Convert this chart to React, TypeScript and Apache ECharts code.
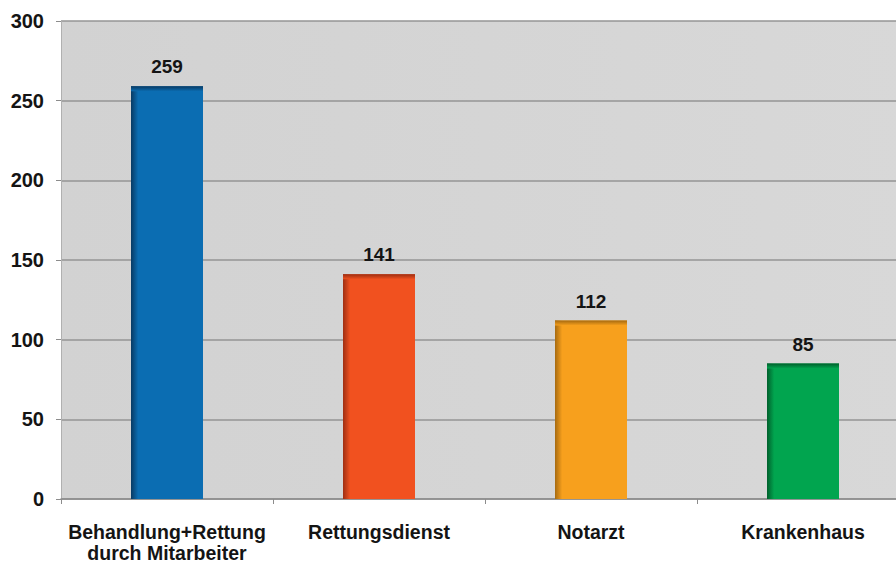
import React, { useEffect, useRef } from "react";
import * as echarts from "echarts";

const categories = ["Behandlung+Rettung\ndurch Mitarbeiter", "Rettungsdienst", "Notarzt", "Krankenhaus"];
const values = [259, 141, 112, 85];
const mainColors = ["#0b6db2", "#f1511f", "#f7a01d", "#01a54f"];
const darkColors = ["#083a63", "#9e2e12", "#a66a10", "#00602c"];
const yTicks = { min: 0, max: 300, interval: 50 };

const FONT = "'Liberation Sans', Arial, sans-serif";

export default function App() {
  const ref = useRef<HTMLDivElement>(null);
  useEffect(() => {
    if (!ref.current) return;
    const chart = echarts.init(ref.current, undefined, { renderer: "svg" });
    const barData = values.map((v, i) => ({
      value: v,
      itemStyle: {
        color: new echarts.graphic.LinearGradient(0, 0, 1, 0, [
          { offset: 0, color: darkColors[i] },
          { offset: 0.1, color: mainColors[i] },
          { offset: 1, color: mainColors[i] },
        ]),
      },
    }));
    chart.setOption({
      animation: false,
      backgroundColor: "#ffffff",
      grid: {
        left: 61,
        top: 21,
        width: 848,
        height: 478,
        outerBoundsMode: "none",
        containLabel: false,
        show: true,
        borderWidth: 0,
        backgroundColor: new echarts.graphic.LinearGradient(0, 0, 1, 0, [
          { offset: 0, color: "#d2d2d2" },
          { offset: 1, color: "#d8d8d8" },
        ]),
      },
      xAxis: {
        type: "category",
        data: categories,
        axisLine: { show: true, lineStyle: { color: "#8c8c8c", width: 1.5 } },
        axisTick: { show: true, length: 5, lineStyle: { color: "#8c8c8c" } },
        axisLabel: {
          color: "#141414",
          fontFamily: FONT,
          fontWeight: "bold",
          fontSize: 19.5,
          lineHeight: 21,
          margin: 22,
          interval: 0,
        },
      },
      yAxis: {
        type: "value",
        min: yTicks.min,
        max: yTicks.max,
        interval: yTicks.interval,
        axisLine: { show: true, lineStyle: { color: "#b0b0b0", width: 1 } },
        axisTick: { show: true, length: 5, lineStyle: { color: "#8c8c8c" } },
        axisLabel: {
          color: "#141414",
          fontFamily: FONT,
          fontWeight: "bold",
          fontSize: 20,
          margin: 17,
        },
        splitLine: { show: true, lineStyle: { color: "#959595", width: 1.5 } },
      },
      series: [
        {
          type: "bar",
          data: barData,
          barWidth: 72,
          label: {
            show: true,
            position: "top",
            distance: 10,
            color: "#141414",
            fontFamily: FONT,
            fontWeight: "bold",
            fontSize: 19,
          },
        },
        {
          type: "custom",
          data: values.map((v, i) => [i, v]),
          z: 3,
          renderItem: (params: any, api: any) => {
            const i = api.value(0);
            const top = api.coord([i, api.value(1)]);
            const w = 72;
            return {
              type: "rect",
              shape: { x: top[0] - w / 2, y: top[1], width: w, height: 5 },
              style: {
                fill: new echarts.graphic.LinearGradient(0, 0, 0, 1, [
                  { offset: 0, color: darkColors[i] },
                  { offset: 1, color: mainColors[i] },
                ]),
              },
            };
          },
        },
      ],
    });
    return () => chart.dispose();
  }, []);
  return (
    <div
      ref={ref}
      style={{ position: "fixed", left: 0, top: 0, width: 896, height: 564 }}
    />
  );
}
